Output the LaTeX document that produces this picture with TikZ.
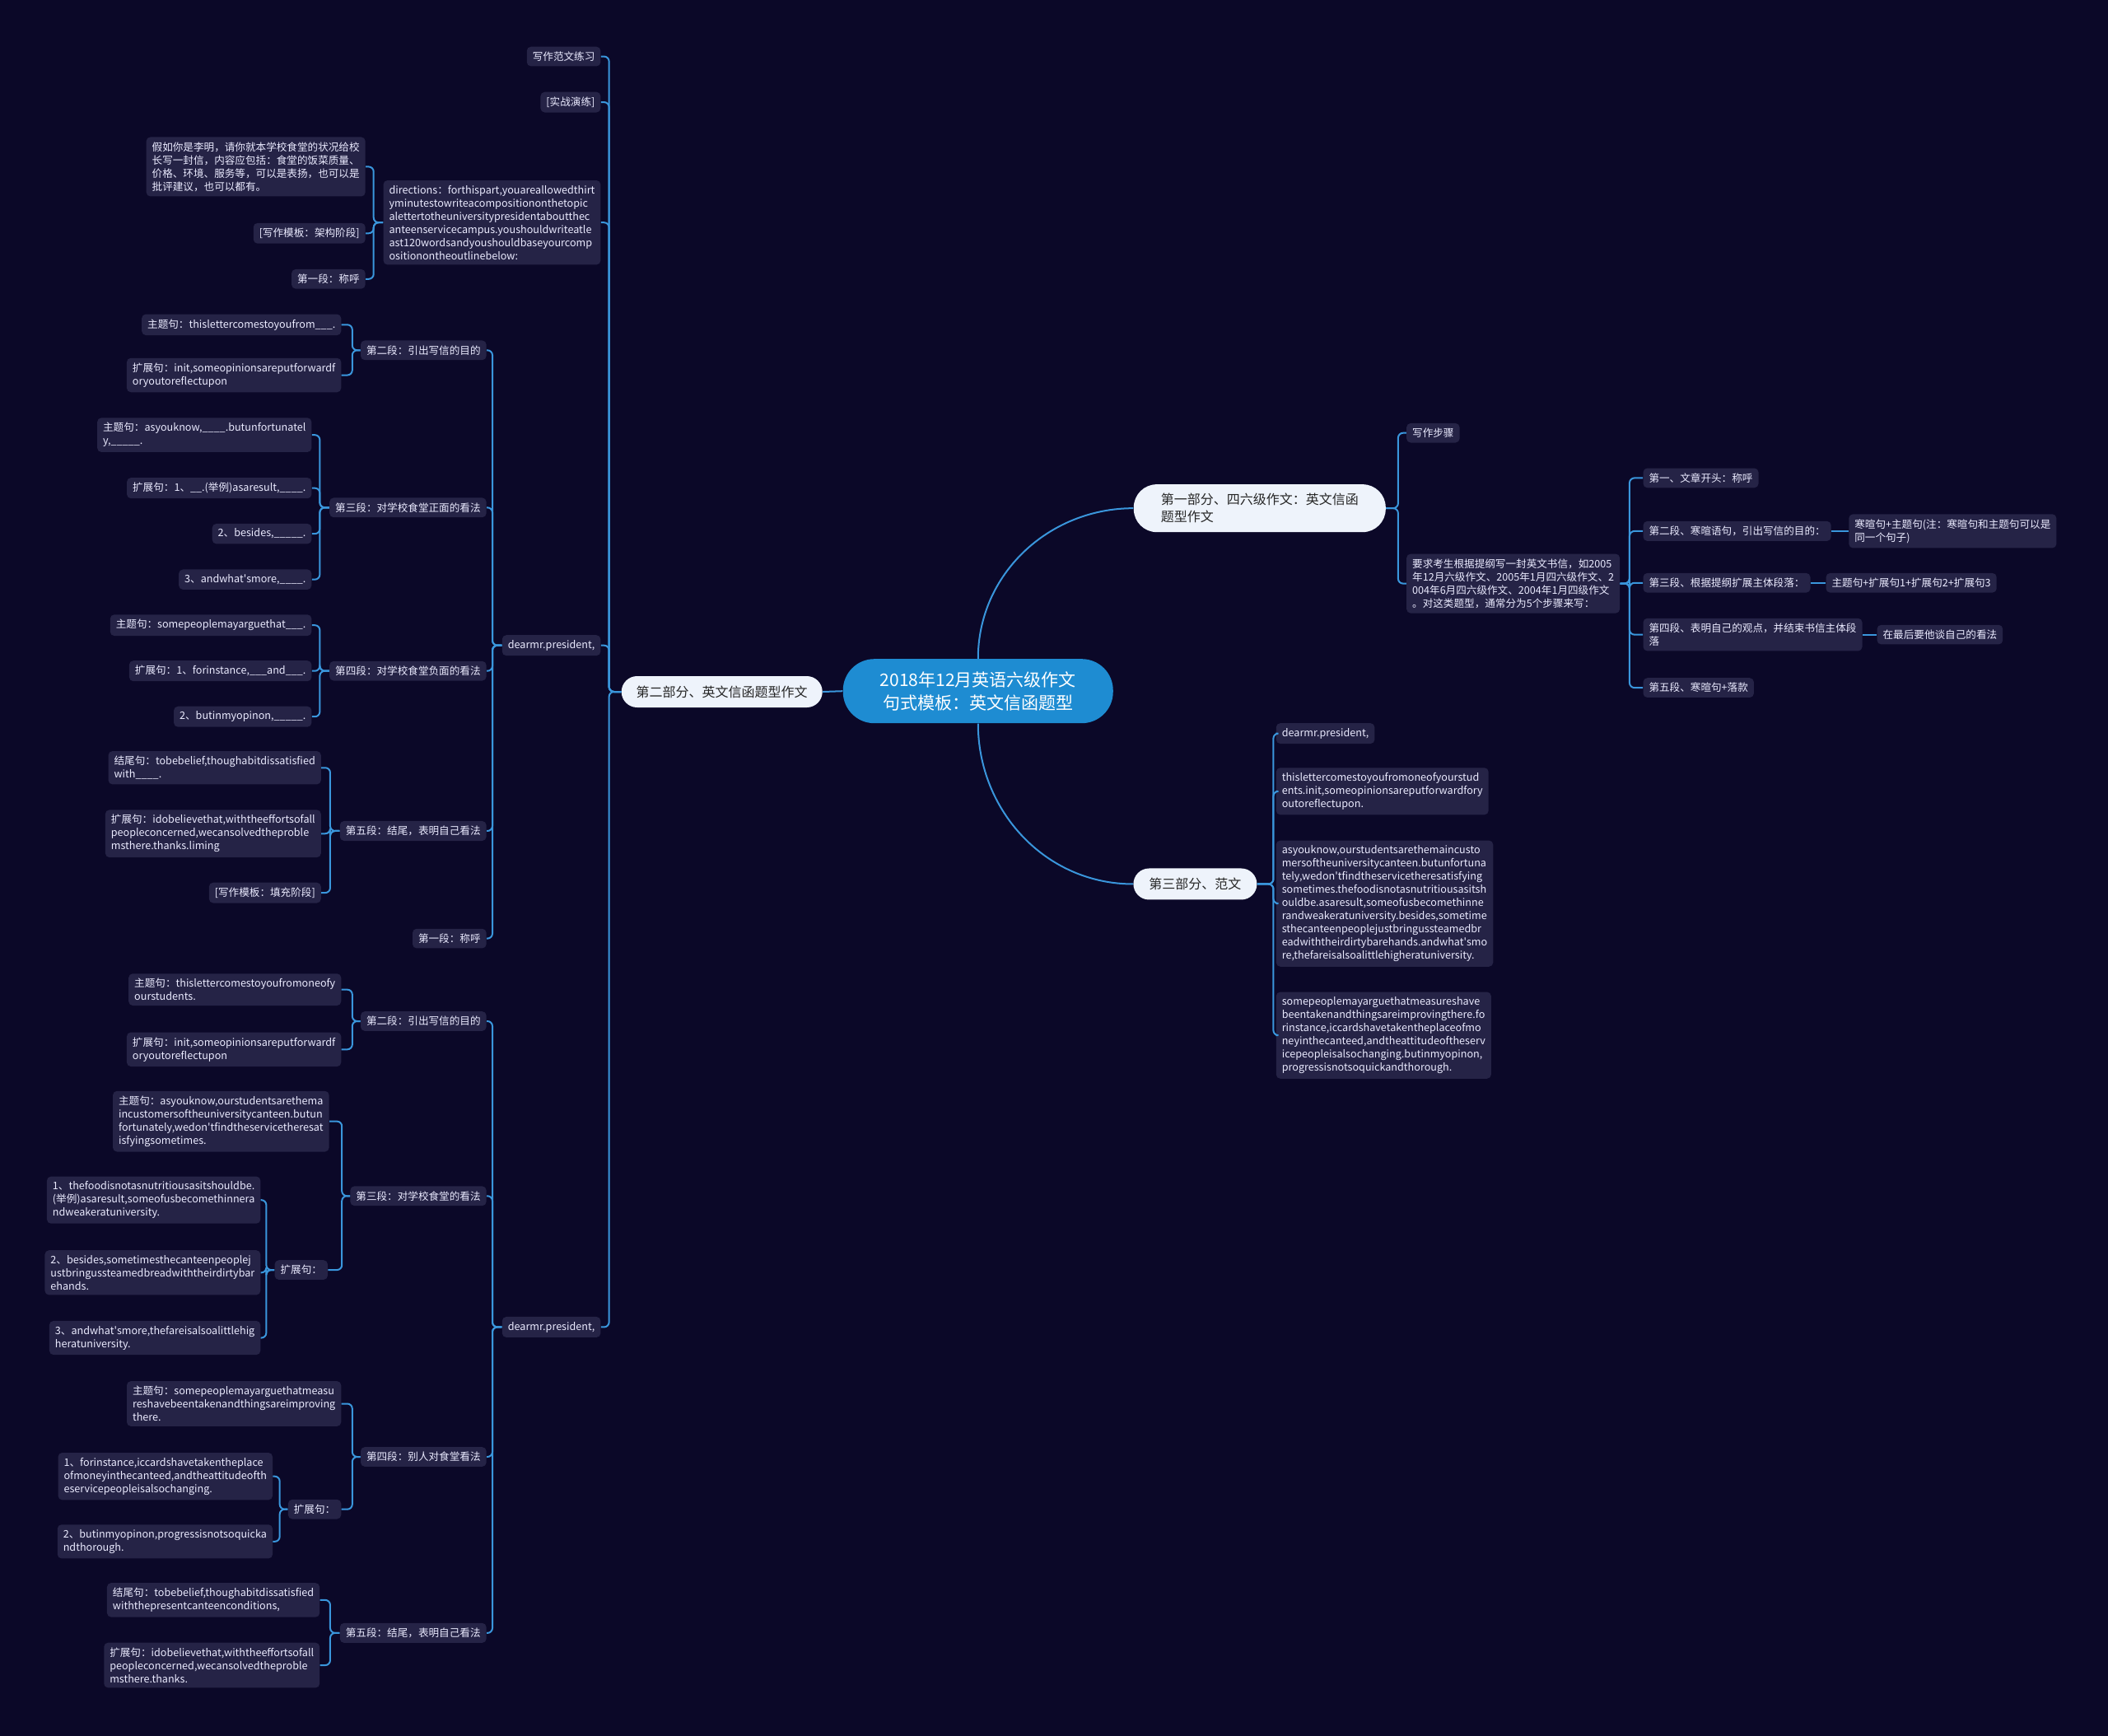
\documentclass[tikz,border=0pt]{standalone}
\usepackage{fontspec}
\setmainfont{Noto Sans CJK SC}
\definecolor{pagebg}{RGB}{11,8,40}
\definecolor{leafbg}{RGB}{37,35,70}
\definecolor{linkblue}{RGB}{58,150,220}
\definecolor{rootblue}{RGB}{30,140,210}
\definecolor{topicbg}{RGB}{238,243,251}
\tikzset{%
    leaf/.style={fill=leafbg, text=white!92!blue, rounded corners=2.5pt, inner xsep=3.5pt, inner ysep=3pt, align=left, font=\fontsize{6.3}{8}\selectfont},
    topic/.style={fill=topicbg, text=black!85, inner xsep=9pt, inner ysep=3pt, align=left, font=\fontsize{8}{10.5}\selectfont},
    centre/.style={fill=rootblue, text=white, rounded corners=19pt, align=center, font=\fontsize{10.5}{14}\selectfont, minimum width=164pt, minimum height=39pt},
    link/.style={draw=linkblue, line width=1pt, rounded corners=3pt},
}

\begin{document}
\begin{tikzpicture}[x=0.8163pt, y=-0.8163pt]
\fill[pagebg] (0,0) rectangle (1568,1291);
\useasboundingbox (0,0) rectangle (1568,1291);

\node[centre] (root) at (727.5,514) {2018年12月英语六级作文\\句式模板：英文信函题型};
\node[topic, rounded corners=9.5pt, minimum width=122pt, minimum height=19pt] (p2) at (537,514.5) {第二部分、英文信函题型作文};
\node[topic, rounded corners=14pt, inner xsep=14pt, minimum width=153pt, minimum height=29pt] (p1) at (937,378) {第一部分、四六级作文：英文信函\\题型作文};
\node[topic, rounded corners=9.5pt, minimum width=75pt, minimum height=19pt] (p3) at (889,657.5) {第三部分、范文};

% left: part two
\node[leaf, anchor=east] (lx) at (447,42) {写作范文练习};
\node[leaf, anchor=east] (sz) at (447,76) {[实战演练]};
\node[leaf, anchor=east] (dir) at (447,165.5) {directions：forthispart,youareallowedthirt\\yminutestowriteacompositiononthetopic\\alettertotheuniversitypresidentaboutthec\\anteenservicecampus.youshouldwriteatle\\ast120wordsandyoushouldbaseyourcomp\\ositionontheoutlinebelow:};
\node[leaf, anchor=east] (dA) at (447,480) {dearmr.president,};
\node[leaf, anchor=east] (dB) at (447,987) {dearmr.president,};

\node[leaf, anchor=east] (dir1) at (272,124) {假如你是李明，请你就本学校食堂的状况给校\\长写一封信，内容应包括：食堂的饭菜质量、\\价格、环境、服务等，可以是表扬，也可以是\\批评建议，也可以都有。};
\node[leaf, anchor=east] (dir2) at (272,173.5) {[写作模板：架构阶段]};
\node[leaf, anchor=east] (dir3) at (272,207.5) {第一段：称呼};

\node[leaf, anchor=east] (aT) at (362,260.5) {第二段：引出写信的目的};
\node[leaf, anchor=east] (aS) at (362,377.5) {第三段：对学校食堂正面的看法};
\node[leaf, anchor=east] (aF) at (362,499) {第四段：对学校食堂负面的看法};
\node[leaf, anchor=east] (aV) at (362,618) {第五段：结尾，表明自己看法};
\node[leaf, anchor=east] (aO) at (362,698) {第一段：称呼};

\node[leaf, anchor=east] (aT1) at (254,241.5) {主题句：thislettercomestoyoufrom\_\_\_.};
\node[leaf, anchor=east] (aT2) at (254,279) {扩展句：init,someopinionsareputforwardf\\oryoutoreflectupon};
\node[leaf, anchor=east] (aS1) at (232,323.5) {主题句：asyouknow,\_\_\_\_.butunfortunatel\\y,\_\_\_\_\_.};
\node[leaf, anchor=east] (aS2) at (232,363) {扩展句：1、\_\_.(举例)asaresult,\_\_\_\_.};
\node[leaf, anchor=east] (aS3) at (232,397) {2、besides,\_\_\_\_\_.};
\node[leaf, anchor=east] (aS4) at (232,431) {3、andwhat\textquotesingle smore,\_\_\_\_.};
\node[leaf, anchor=east] (aF1) at (232,465) {主题句：somepeoplemayarguethat\_\_\_.};
\node[leaf, anchor=east] (aF2) at (232,499) {扩展句：1、forinstance,\_\_\_and\_\_\_.};
\node[leaf, anchor=east] (aF3) at (232,533) {2、butinmyopinon,\_\_\_\_\_.};
\node[leaf, anchor=east] (aV1) at (239,571) {结尾句：tobebelief,thoughabitdissatisfied\\with\_\_\_\_.};
\node[leaf, anchor=east] (aV2) at (239,620) {扩展句：idobelievethat,withtheeffortsofall\\peopleconcerned,wecansolvedtheproble\\msthere.thanks.liming};
\node[leaf, anchor=east] (aV3) at (239,664) {[写作模板：填充阶段]};

\node[leaf, anchor=east] (bT) at (362,759.5) {第二段：引出写信的目的};
\node[leaf, anchor=east] (bS) at (362,889.5) {第三段：对学校食堂的看法};
\node[leaf, anchor=east] (bF) at (362,1083.5) {第四段：别人对食堂看法};
\node[leaf, anchor=east] (bV) at (362,1214.5) {第五段：结尾，表明自己看法};

\node[leaf, anchor=east] (bT1) at (254,736) {主题句：thislettercomestoyoufromoneofy\\ourstudents.};
\node[leaf, anchor=east] (bT2) at (254,780.5) {扩展句：init,someopinionsareputforwardf\\oryoutoreflectupon};
\node[leaf, anchor=east] (bS1) at (245,834) {主题句：asyouknow,ourstudentsarethema\\incustomersoftheuniversitycanteen.butun\\fortunately,wedon\textquotesingle tfindtheservicetheresat\\isfyingsometimes.};
\node[leaf, anchor=east] (bSx) at (244,944.5) {扩展句：};
\node[leaf, anchor=east] (bSx1) at (194,892.5) {1、thefoodisnotasnutritiousasitshouldbe.\\(举例)asaresult,someofusbecomethinnera\\ndweakeratuniversity.};
\node[leaf, anchor=east] (bSx2) at (194,946.5) {2、besides,sometimesthecanteenpeoplej\\ustbringussteamedbreadwiththeirdirtybar\\ehands.};
\node[leaf, anchor=east] (bSx3) at (194,995) {3、andwhat\textquotesingle smore,thefareisalsoalittlehig\\heratuniversity.};
\node[leaf, anchor=east] (bF1) at (254,1044) {主题句：somepeoplemayarguethatmeasu\\reshavebeentakenandthingsareimproving\\there.};
\node[leaf, anchor=east] (bFx) at (254,1122.5) {扩展句：};
\node[leaf, anchor=east] (bFx1) at (203,1098) {1、forinstance,iccardshavetakentheplace\\ofmoneyinthecanteed,andtheattitudeofth\\eservicepeopleisalsochanging.};
\node[leaf, anchor=east] (bFx2) at (203,1146.5) {2、butinmyopinon,progressisnotsoquicka\\ndthorough.};
\node[leaf, anchor=east] (bV1) at (238,1190) {结尾句：tobebelief,thoughabitdissatisfied\\withthepresentcanteenconditions,};
\node[leaf, anchor=east] (bV2) at (238,1238.5) {扩展句：idobelievethat,withtheeffortsofall\\peopleconcerned,wecansolvedtheproble\\msthere.thanks.};

% right: part one
\node[leaf, anchor=west] (bz) at (1046,322) {写作步骤};
\node[leaf, anchor=west] (yq) at (1046,434) {要求考生根据提纲写一封英文书信，如2005\\年12月六级作文、2005年1月四六级作文、2\\004年6月四六级作文、2004年1月四级作文\\。对这类题型，通常分为5个步骤来写：};
\node[leaf, anchor=west] (s1) at (1222,355.5) {第一、文章开头：称呼};
\node[leaf, anchor=west] (s2) at (1222,395) {第二段、寒暄语句，引出写信的目的：};
\node[leaf, anchor=west] (s2a) at (1375,395) {寒暄句+主题句(注：寒暄句和主题句可以是\\同一个句子)};
\node[leaf, anchor=west] (s3) at (1222,433.5) {第三段、根据提纲扩展主体段落：};
\node[leaf, anchor=west] (s3a) at (1358,433.5) {主题句+扩展句1+扩展句2+扩展句3};
\node[leaf, anchor=west] (s4) at (1222,472) {第四段、表明自己的观点，并结束书信主体段\\落};
\node[leaf, anchor=west] (s4a) at (1396,472) {在最后要他谈自己的看法};
\node[leaf, anchor=west] (s5) at (1222,511.5) {第五段、寒暄句+落款};

% right: part three
\node[leaf, anchor=west] (f1) at (949,545.5) {dearmr.president,};
\node[leaf, anchor=west] (f2) at (949,588.5) {thislettercomestoyoufromoneofyourstud\\ents.init,someopinionsareputforwardfory\\outoreflectupon.};
\node[leaf, anchor=west] (f3) at (949,672) {asyouknow,ourstudentsarethemaincusto\\mersoftheuniversitycanteen.butunfortuna\\tely,wedon\textquotesingle tfindtheservicetheresatisfying\\sometimes.thefoodisnotasnutritiousasitsh\\ouldbe.asaresult,someofusbecomethinne\\randweakeratuniversity.besides,sometime\\sthecanteenpeoplejustbringussteamedbr\\eadwiththeirdirtybarehands.andwhat\textquotesingle smo\\re,thefareisalsoalittlehigheratuniversity.};
\node[leaf, anchor=west] (f4) at (949,770) {somepeoplemayarguethatmeasureshave\\beentakenandthingsareimprovingthere.fo\\rinstance,iccardshavetakentheplaceofmo\\neyinthecanteed,andtheattitudeoftheserv\\icepeopleisalsochanging.butinmyopinon,\\progressisnotsoquickandthorough.};

% connectors
\draw[link] (root.west) -- (p2.east);
\draw[link] (root.north) to[out=90, in=180] (p1.west);
\draw[link] (root.south) to[out=-90, in=180] (p3.west);

\foreach \c in {lx,sz,dir,dA,dB} \draw[link] (p2.west) -- ++(-9,0) |- (\c.east);
\foreach \c in {dir1,dir2,dir3} \draw[link] (dir.west) -- ++(-7,0) |- (\c.east);
\foreach \c in {aT,aS,aF,aV,aO} \draw[link] (dA.west) -- ++(-7,0) |- (\c.east);
\foreach \c in {aT1,aT2} \draw[link] (aT.west) -- ++(-6,0) |- (\c.east);
\foreach \c in {aS1,aS2,aS3,aS4} \draw[link] (aS.west) -- ++(-7,0) |- (\c.east);
\foreach \c in {aF1,aF2,aF3} \draw[link] (aF.west) -- ++(-7,0) |- (\c.east);
\foreach \c in {aV1,aV2,aV3} \draw[link] (aV.west) -- ++(-7,0) |- (\c.east);
\foreach \c in {bT,bS,bF,bV} \draw[link] (dB.west) -- ++(-7,0) |- (\c.east);
\foreach \c in {bT1,bT2} \draw[link] (bT.west) -- ++(-6,0) |- (\c.east);
\foreach \c in {bS1,bSx} \draw[link] (bS.west) -- ++(-6,0) |- (\c.east);
\foreach \c in {bSx1,bSx2,bSx3} \draw[link] (bSx.west) -- ++(-6,0) |- (\c.east);
\foreach \c in {bF1,bFx} \draw[link] (bF.west) -- ++(-6,0) |- (\c.east);
\foreach \c in {bFx1,bFx2} \draw[link] (bFx.west) -- ++(-6,0) |- (\c.east);
\foreach \c in {bV1,bV2} \draw[link] (bV.west) -- ++(-7,0) |- (\c.east);

\foreach \c in {bz,yq} \draw[link] (p1.east) -- ++(9,0) |- (\c.west);
\foreach \c in {s1,s2,s3,s4,s5} \draw[link] (yq.east) -- ++(7,0) |- (\c.west);
\draw[link] (s2.east) -- (s2a.west);
\draw[link] (s3.east) -- (s3a.west);
\draw[link] (s4.east) -- (s4a.west);
\foreach \c in {f1,f2,f3,f4} \draw[link] (p3.east) -- ++(12,0) |- (\c.west);
\end{tikzpicture}
\end{document}
